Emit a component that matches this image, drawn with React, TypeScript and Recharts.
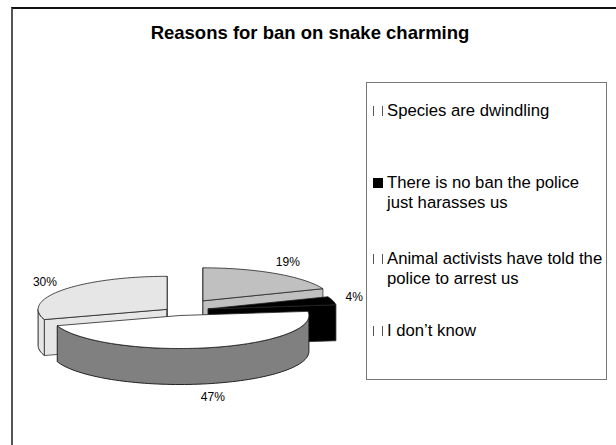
import React from "react";
import { Cell, Legend, Pie, PieChart } from "recharts";

const reasons = [
  "Species are dwindling",
  "There is no ban the police just harasses us",
  "Animal activists have told the police to arrest us",
  "I don\u2019t know",
];
const shares = [19, 4, 47, 30];

const pieData = reasons.map((name, i) => ({ name, value: shares[i] }));

// greyscale fills: top face and the side walls
const TOP_COLORS = ["#c0c0c0", "#000000", "#ffffff", "#e6e6e6"];
const SIDE_COLORS = ["#c0c0c0", "#000000", "#808080", "#e6e6e6"];
// how far each slice is pulled out of the pie
const EXPLODE = [48, 33, 18, 11];

const FONT = '"Liberation Sans", Arial, sans-serif';
const TILT = 0.256;
const DEPTH = 36;
const RAD = Math.PI / 180;

const LEGEND_TOPS = [18, 90, 166, 238];

function pt(x: number, y: number, rx: number, ry: number, a: number, dy = 0) {
  return [x + rx * Math.cos(a * RAD), y - ry * Math.sin(a * RAD) + dy];
}

function arcPts(x: number, y: number, rx: number, ry: number, from: number, to: number, dy = 0) {
  const n = Math.max(2, Math.ceil(Math.abs(from - to) / 2));
  const out: number[][] = [];
  for (let i = 0; i <= n; i++) {
    out.push(pt(x, y, rx, ry, from + ((to - from) * i) / n, dy));
  }
  return out;
}

const toPath = (pts: number[][]) =>
  pts.map((p, i) => `${i ? "L" : "M"}${p[0].toFixed(2)},${p[1].toFixed(2)}`).join(" ") + " Z";

function sliceIndex(props: any) {
  if (typeof props.index === "number") return props.index;
  const name = props.name ?? props.payload?.name;
  return reasons.indexOf(name);
}

// draws one slice as a tilted, extruded wedge; back slices go in the first pass
function makeSlice(back: boolean) {
  return (props: any) => {
    const { cx, cy, outerRadius, startAngle, endAngle } = props;
    const i = sliceIndex(props);
    const mid = (startAngle + endAngle) / 2;
    const isBack = Math.sin(mid * RAD) > 0;
    if (isBack !== back) return <g />;
    const rx = outerRadius;
    const ry = rx * TILT;
    const e = EXPLODE[i] ?? 0;
    const ox = cx + e * Math.cos(mid * RAD);
    const oy = cy - e * Math.sin(mid * RAD) * TILT;
    const side = SIDE_COLORS[i];
    const parts: React.ReactNode[] = [];

    const face = (a: number, key: string) => {
      const p = pt(ox, oy, rx, ry, a);
      return (
        <path
          key={key}
          d={toPath([[ox, oy], p, [p[0], p[1] + DEPTH], [ox, oy + DEPTH]])}
          fill={side}
          stroke="#333"
          strokeWidth={0.8}
        />
      );
    };

    // outer wall, only the part facing the viewer
    const a1 = Math.min(startAngle, 0);
    const a0 = Math.max(endAngle, -180);
    if (a1 > a0) {
      const topArc = arcPts(ox, oy, rx, ry, a1, a0);
      const botArc = arcPts(ox, oy, rx, ry, a0, a1, DEPTH);
      parts.push(
        <path key="wall" d={toPath([...topArc, ...botArc])} fill={side} stroke="#111" strokeWidth={0.9} />
      );
    }
    if (Math.cos(startAngle * RAD) <= 1e-6) parts.push(face(startAngle, "s"));
    if (Math.cos(endAngle * RAD) >= -1e-6) parts.push(face(endAngle, "e"));

    const top = [[ox, oy], ...arcPts(ox, oy, rx, ry, startAngle, endAngle)];
    parts.push(<path key="top" d={toPath(top)} fill={props.fill} stroke="#222" strokeWidth={0.8} />);
    return <g>{parts}</g>;
  };
}

function renderLabel(props: any) {
  const { cx, cy, outerRadius, value } = props;
  const i = sliceIndex(props);
  const mid = props.midAngle ?? (props.startAngle + props.endAngle) / 2;
  const rx = outerRadius;
  const ry = rx * TILT;
  const e = EXPLODE[i] ?? 0;
  const c = Math.cos(mid * RAD);
  const s = Math.sin(mid * RAD);
  const x = cx + e * c + (rx + 22) * c;
  const y = cy - e * s * TILT - (ry + 14) * s + (s < 0 ? DEPTH : 0);
  return (
    <text x={x} y={y} textAnchor="middle" dominantBaseline="central" fontSize={12} fontFamily={FONT} fill="#000">
      {`${value}%`}
    </text>
  );
}

function LegendBox(props: any) {
  // both pie passes report entries; keep one per reason
  const seen = new Set<string>();
  const items = (props.payload ?? []).filter((item: any) => {
    if (item.type === "none" || seen.has(item.value)) return false;
    seen.add(item.value);
    return true;
  });
  return (
    <div
      style={{
        position: "relative",
        width: 241,
        height: 298,
        boxSizing: "border-box",
        border: "1.5px solid #777",
        background: "#fff",
        fontFamily: FONT,
        fontSize: 16.7,
        lineHeight: "20px",
        color: "#000",
      }}
    >
      {items.map((item: any) => {
        const i = reasons.indexOf(item.value);
        const color = TOP_COLORS[i];
        const dark = color === "#000000";
        return (
          <div key={item.value} style={{ position: "absolute", left: 0, top: LEGEND_TOPS[i], width: "100%" }}>
            <span
              style={{
                position: "absolute",
                left: 6,
                top: 5,
                width: 10,
                height: 10,
                boxSizing: "border-box",
                background: dark ? color : "#fff",
                borderLeft: dark ? "none" : "1.5px solid #555",
                borderRight: dark ? "none" : "1.5px solid #555",
              }}
            />
            <div style={{ marginLeft: 20, width: 219, whiteSpace: "normal" }}>{item.value}</div>
          </div>
        );
      })}
    </div>
  );
}

export default function App() {
  return (
    <div style={{ position: "absolute", left: 0, top: 0, width: 616, height: 445, background: "#fff", overflow: "hidden" }}>
      <div
        style={{
          position: "absolute",
          left: 11,
          top: 7,
          width: 700,
          height: 500,
          borderTop: "2px solid #111",
          borderLeft: "2px solid #555",
        }}
      />
      <div
        style={{
          position: "absolute",
          left: 0,
          top: 22,
          width: 620,
          textAlign: "center",
          fontFamily: FONT,
          fontWeight: "bold",
          fontSize: 18.5,
          color: "#000",
        }}
      >
        Reasons for ban on snake charming
      </div>
      <div style={{ position: "absolute", left: 0, top: 0 }}>
        <PieChart width={616} height={445} margin={{ top: 0, right: 0, bottom: 0, left: 0 }}>
          <Pie
            data={pieData}
            dataKey="value"
            nameKey="name"
            cx={176}
            cy={311}
            outerRadius={129}
            startAngle={90}
            endAngle={-270}
            stroke="none"
            shape={makeSlice(true)}
            label={renderLabel}
            labelLine={false}
            isAnimationActive={false}
          >
            {pieData.map((d, i) => (
              <Cell key={d.name} fill={TOP_COLORS[i]} />
            ))}
          </Pie>
          <Pie
            data={pieData}
            dataKey="value"
            nameKey="name"
            cx={176}
            cy={311}
            outerRadius={129}
            startAngle={90}
            endAngle={-270}
            stroke="none"
            shape={makeSlice(false)}
            legendType="none"
            isAnimationActive={false}
          >
            {pieData.map((d, i) => (
              <Cell key={d.name} fill={TOP_COLORS[i]} />
            ))}
          </Pie>
          <Legend
            layout="vertical"
            align="right"
            verticalAlign="top"
            content={<LegendBox />}
            wrapperStyle={{ left: 366, top: 82, right: "auto", width: 241, height: 298 }}
          />
        </PieChart>
      </div>
    </div>
  );
}
